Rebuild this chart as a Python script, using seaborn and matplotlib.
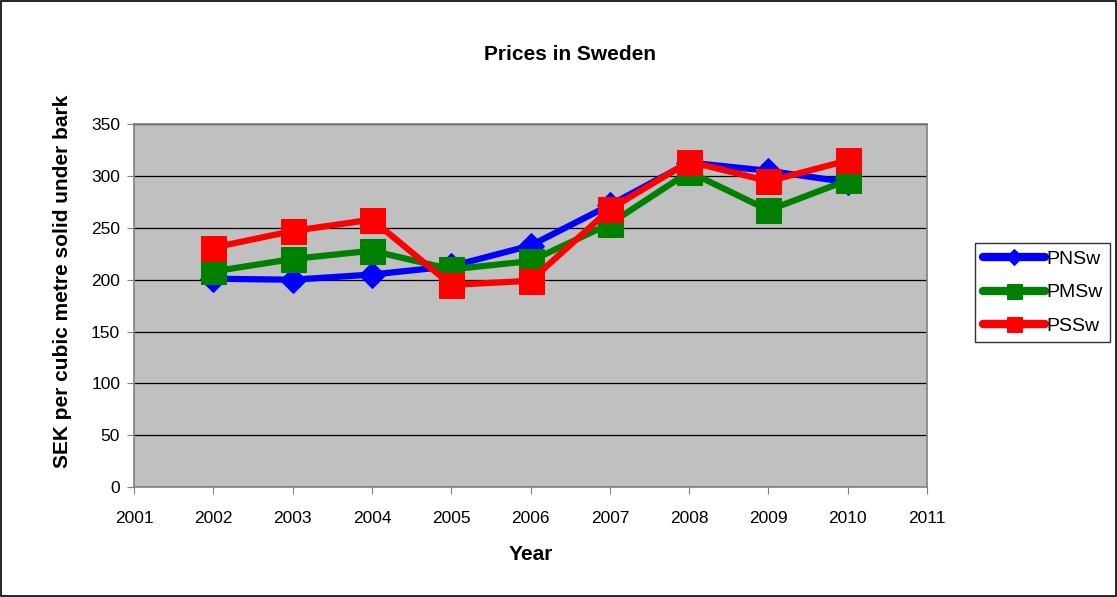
import matplotlib
matplotlib.use("Agg")
import matplotlib.pyplot as plt
from matplotlib.patches import Rectangle
import pandas as pd
import seaborn as sns

# -- Data -----------------------------------------------------
years = [2002, 2003, 2004, 2005, 2006, 2007, 2008, 2009, 2010]
pnsw = [201, 200, 205, 213, 233, 272, 313, 305, 294]
pmsw = [208, 220, 228, 210, 218, 254, 304, 267, 296]
pssw = [231, 247, 258, 195, 199, 268, 314, 295, 315]
series_names = ["PNSw", "PMSw", "PSSw"]

df = pd.DataFrame({"Year": years * 3,
                   "Price": pnsw + pmsw + pssw,
                   "Series": [s for s in series_names for _ in years]})

sns.set_style("white")
plt.rcParams["font.family"] = ["Liberation Sans", "DejaVu Sans"]
plt.rcParams["text.color"] = "black"
plt.rcParams["axes.labelcolor"] = "black"
plt.rcParams["xtick.color"] = "black"
plt.rcParams["ytick.color"] = "black"

styles = {
    "PNSw": dict(color="#0000FF", marker="D", ms=13),
    "PMSw": dict(color="#008000", marker="s", ms=18),
    "PSSw": dict(color="#FF0000", marker="s", ms=18),
}

fig = plt.figure(figsize=(11.17, 5.97), dpi=100)
ax = fig.add_axes([0.12, 0.184, 0.71, 0.608])
ax.set_facecolor("#C0C0C0")

for name in series_names:
    st = styles[name]
    sns.lineplot(data=df[df["Series"] == name], x="Year", y="Price",
                 color=st["color"], marker=st["marker"], markersize=st["ms"],
                 markeredgecolor=st["color"], linewidth=4.5, label=name, ax=ax)

ax.set_xlim(2001, 2011)
ax.set_ylim(0, 350)
ax.set_xticks(range(2001, 2012))
ax.set_yticks(range(0, 351, 50))
ax.yaxis.grid(True, color="black", linewidth=0.9)
ax.set_axisbelow(True)
for side in ["left", "bottom", "top", "right"]:
    ax.spines[side].set_color("#808080")
    ax.spines[side].set_linewidth(1.2)
ax.tick_params(axis="both", direction="out", length=5, color="#808080",
               labelsize=12.5, left=True, bottom=True, labelcolor="black")
ax.tick_params(axis="x", pad=12)
ax.tick_params(axis="y", pad=5)

# title sits a bit right of the axes centre in the original
fig.text(0.51, 0.9095, "Prices in Sweden", fontsize=15, fontweight="bold",
         ha="center", va="center")
ax.set_xlabel("Year", fontsize=15, fontweight="bold", labelpad=14)
ax.set_ylabel("SEK per cubic metre solid under bark", fontsize=15,
              fontweight="bold")
ax.yaxis.set_label_coords(-0.078, 0.567)

leg = ax.legend(loc="center left", bbox_to_anchor=(0.873, 0.51),
                bbox_transform=fig.transFigure, fontsize=14,
                markerscale=0.6, handlelength=3.2, handletextpad=0.05,
                frameon=True, fancybox=False, borderpad=0.4,
                labelspacing=0.8, borderaxespad=0)
leg.get_frame().set_edgecolor("black")
leg.get_frame().set_linewidth(1.0)
for line in leg.get_lines():
    line.set_linewidth(6)

fig.patches.append(Rectangle((0.001, 0.001), 0.998, 0.997, transform=fig.transFigure,
                             fill=False, edgecolor="black", linewidth=1.2))

plt.savefig("out.png", dpi=100)
plt.close()
